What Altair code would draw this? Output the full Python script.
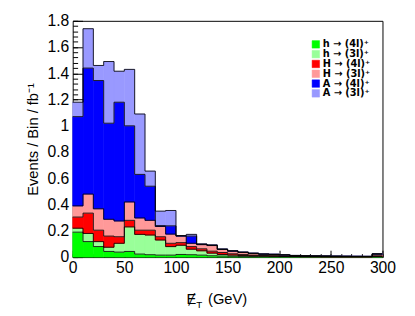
import altair as alt
import pandas as pd

# ---- data ----
bin_lo = list(range(0, 300, 10))
series_names = ["h → (4l)⁺", "h → (3l)⁺", "H → (4l)⁺", "H → (3l)⁺", "A → (4l)⁺", "A → (3l)⁺"]
colors = ["#00ff00", "#99ff99", "#ff0000", "#ff9999", "#0000ff", "#9999ff"]

h_4l = [0.19, 0.118, 0.08, 0.043, 0.038, 0.043, 0.023, 0.018, 0.015, 0.015,
        0.02, 0.018, 0.015, 0.01, 0.008, 0.006, 0.005, 0.004, 0.003, 0.003,
        0.002, 0.002, 0.001, 0.001, 0.001, 0.001, 0.001, 0.001, 0.001, 0.002]
h_3l = [0.03, 0.062, 0.038, 0.032, 0.067, 0.187, 0.15, 0.15, 0.115, 0.065,
        0.07, 0.042, 0.033, 0.02, 0.012, 0.009, 0.007, 0.006, 0.005, 0.004,
        0.003, 0.002, 0.002, 0.002, 0.001, 0.001, 0.001, 0.001, 0.001, 0.003]
H_4l = [0.085, 0.155, 0.087, 0.085, 0.05, 0.05, 0.032, 0.037, 0.025, 0.025,
        0.02, 0.02, 0.015, 0.015, 0.015, 0.01, 0.008, 0.005, 0.004, 0.004,
        0.003, 0.002, 0.002, 0.001, 0.002, 0.001, 0.001, 0.001, 0.001, 0.005]
H_3l = [0.085, 0.145, 0.163, 0.128, 0.12, 0.14, 0.093, 0.075, 0.078, 0.07,
        0.05, 0.025, 0.032, 0.043, 0.023, 0.02, 0.016, 0.013, 0.01, 0.009,
        0.008, 0.005, 0.004, 0.004, 0.003, 0.003, 0.003, 0.002, 0.002, 0.012]
A_4l = [0.68, 0.96, 0.977, 0.732, 0.905, 0.58, 0.332, 0.26, 0.007, 0.063,
        0.002, 0.055, 0.003, 0.002, 0.002, 0.002, 0.001, 0.001, 0.001, 0.001,
        0.001, 0.001, 0.001, 0.001, 0.001, 0.001, 0.0, 0.001, 0.0, 0.002]
A_3l = [0.11, 0.30, 0.115, 0.47, 0.236, 0.43, 0.46, 0.115, 0.11, 0.117,
        0.002, 0.013, 0.002, 0.003, 0.002, 0.001, 0.001, 0.001, 0.001, 0.001,
        0.001, 0.001, 0.001, 0.001, 0.001, 0.001, 0.001, 0.0, 0.001, 0.002]

x_major = [0, 50, 100, 150, 200, 250, 300]
x_minor = list(range(0, 301, 10))
y_major = [0, 0.2, 0.4, 0.6, 0.8, 1.0, 1.2, 1.4, 1.6, 1.8]
y_minor = [round(i * 0.04, 2) for i in range(46)]

all_series = [h_4l, h_3l, H_4l, H_3l, A_4l, A_3l]
rows = []
for k, (name, vals) in enumerate(zip(series_names, all_series)):
    for lo, v in zip(bin_lo, vals):
        rows.append({"lo": lo, "hi": lo + 10, "series": name, "order": k, "value": v})
df = pd.DataFrame(rows)

W, H = 316, 241
FONT = "Liberation Sans"

xs = alt.Scale(domain=[0, 300], nice=False, zero=False)
ys = alt.Scale(domain=[0, 1.8], nice=False)
cs = alt.Scale(domain=series_names, range=colors)

base = alt.Chart(df).transform_stack(
    stack="value", groupby=["lo"], sort=[alt.SortField("order", order="ascending")], as_=["y0", "y1"]
)

bars = base.mark_bar(strokeWidth=0.6).encode(
    x=alt.X("lo:Q", scale=xs, axis=alt.Axis(orient="bottom", values=x_major, ticks=False, tickSize=0,
                                             domain=False, grid=False, labelFontSize=16, labelPadding=3,
                                             labelFlush=False, labelOverlap=False, format="d", title=None)),
    x2="hi:Q",
    y=alt.Y("y0:Q", scale=ys, axis=alt.Axis(orient="left", values=y_major, ticks=False, tickSize=0,
                                             domain=False, grid=False, labelFontSize=16, labelPadding=4,
                                             labelOverlap=False, format="~g",
                                             title="Events / Bin / fb⁻¹", titleFontSize=15,
                                             titleFontWeight="normal", titlePadding=7)),
    y2="y1:Q",
    color=alt.Color("series:N", scale=cs, legend=alt.Legend(
        orient="none", legendX=243, legendY=19, title=None, symbolType="square", symbolSize=58,
        labelFont="DejaVu Sans", labelFontWeight="bold", labelFontSize=10, rowPadding=0, labelOffset=2,
        symbolStrokeColor="#555", symbolStrokeWidth=0.5, padding=0, symbolOpacity=1)),
    stroke=alt.Stroke("series:N", scale=cs, legend=None),
)

tops = base.mark_rule(color="black", strokeWidth=1, opacity=0.85).encode(
    x=alt.X("lo:Q", scale=xs, axis=alt.Axis(orient="top", offset=-H, values=x_major, labels=False,
                                             domain=False, grid=False, tickSize=7, tickColor="black",
                                             title=None)),
    x2="hi:Q",
    y=alt.Y("y1:Q", scale=ys, axis=alt.Axis(orient="right", offset=-W, values=y_major, labels=False,
                                             domain=False, grid=False, tickSize=10, tickColor="black",
                                             title=None)),
)

steps = base.transform_window(
    nxt="lead(y1)", groupby=["series"], sort=[alt.SortField("lo")]
).transform_filter("isValid(datum.nxt)").mark_rule(color="black", strokeWidth=1, opacity=0.85).encode(
    x=alt.X("hi:Q", scale=xs, axis=alt.Axis(orient="top", offset=-H, values=x_minor, labels=False,
                                             domain=False, grid=False, tickSize=3.5, tickColor="black",
                                             title=None)),
    y=alt.Y("y1:Q", scale=ys, axis=alt.Axis(orient="right", offset=-W, values=y_minor, labels=False,
                                             domain=False, grid=False, tickSize=5, tickColor="black",
                                             title=None)),
    y2="nxt:Q",
)

tdf = pd.DataFrame({"t": ["x"]})
t_e = alt.Chart(tdf).mark_text(text="Ɇ", fontSize=15, align="left", baseline="alphabetic", font=FONT).encode(
    x=alt.value(116), y=alt.value(289))
t_t = alt.Chart(tdf).mark_text(text="T", fontSize=10, align="left", baseline="alphabetic", font=FONT).encode(
    x=alt.value(126), y=alt.value(292.5))
t_g = alt.Chart(tdf).mark_text(text="(GeV)", fontSize=15, align="left", baseline="alphabetic", font=FONT).encode(
    x=alt.value(138), y=alt.value(289))

chart = alt.layer(bars, tops, steps, t_e, t_t, t_g).resolve_axis(
    x="independent", y="independent"
).properties(
    width=W, height=H,
    autosize=alt.AutoSizeParams(type="none"),
    padding={"left": 66, "top": 10, "right": 25, "bottom": 57},
).configure(font=FONT).configure_view(stroke="black", strokeWidth=1)

chart.save("out.html", embed_options={"renderer": "svg", "actions": False})
